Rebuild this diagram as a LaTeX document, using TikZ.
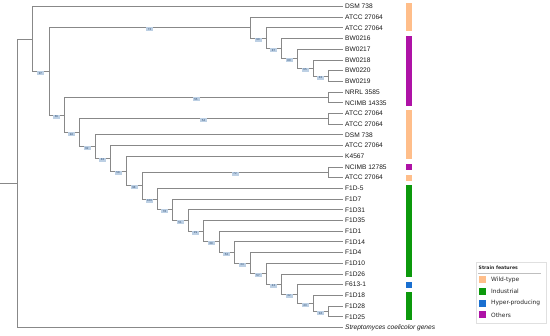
\documentclass[tikz,border=0pt]{standalone}
\usepackage{fontspec}
\setmainfont{Liberation Sans}
\newfontfamily\legfont{DejaVu Sans}
\definecolor{treegray}{HTML}{888888}
\definecolor{wild}{HTML}{FFBE8A}
\definecolor{indus}{HTML}{0C990C}
\definecolor{hyper}{HTML}{1A6FD0}
\definecolor{other}{HTML}{AE12A6}
\definecolor{bsfill}{HTML}{BDD0E4}
\definecolor{bstext}{HTML}{2F4F76}
\begin{document}
\begin{tikzpicture}[x=1pt,y=-1pt,
 br/.style={draw=treegray, line width=0.85pt},
 leaf/.style={anchor=west, inner xsep=2pt, inner ysep=0pt, font=\fontsize{6.6}{7}\selectfont, text=black!90},
 bs/.style={fill=bsfill, text=bstext, inner sep=0pt, minimum width=7pt, minimum height=4pt, font=\fontsize{2.9}{3}\selectfont, yshift=-1.6pt, pos=0.75},
 legtxt/.style={anchor=west, inner sep=0pt, font=\legfont\fontsize{5.9}{7}\selectfont, text=black!85},
 legsq/.style={inner sep=0pt, minimum size=7pt}
]
\useasboundingbox (0,0) rectangle (550,336);
% leaves
\node[leaf] (l0)  at (343,6.5)   {DSM 738};
\node[leaf] (l1)  at (343,17.2)  {ATCC 27064};
\node[leaf] (l2)  at (343,27.9)  {ATCC 27064};
\node[leaf] (l3)  at (343,38.6)  {BW0216};
\node[leaf] (l4)  at (343,49.3)  {BW0217};
\node[leaf] (l5)  at (343,60.0)  {BW0218};
\node[leaf] (l6)  at (343,70.7)  {BW0220};
\node[leaf] (l7)  at (343,81.4)  {BW0219};
\node[leaf] (l8)  at (343,92.1)  {NRRL 3585};
\node[leaf] (l9)  at (343,102.8) {NCIMB 14335};
\node[leaf] (l10) at (343,113.5) {ATCC 27064};
\node[leaf] (l11) at (343,124.2) {ATCC 27064};
\node[leaf] (l12) at (343,134.9) {DSM 738};
\node[leaf] (l13) at (343,145.6) {ATCC 27064};
\node[leaf] (l14) at (343,156.3) {K4567};
\node[leaf] (l15) at (343,167.0) {NCIMB 12785};
\node[leaf] (l16) at (343,177.7) {ATCC 27064};
\node[leaf] (l17) at (343,188.4) {F1D-5};
\node[leaf] (l18) at (343,199.1) {F1D7};
\node[leaf] (l19) at (343,209.8) {F1D31};
\node[leaf] (l20) at (343,220.5) {F1D35};
\node[leaf] (l21) at (343,231.2) {F1D1};
\node[leaf] (l22) at (343,241.9) {F1D14};
\node[leaf] (l23) at (343,252.6) {F1D4};
\node[leaf] (l24) at (343,263.3) {F1D10};
\node[leaf] (l25) at (343,274.0) {F1D26};
\node[leaf] (l26) at (343,284.7) {F613-1};
\node[leaf] (l27) at (343,295.4) {F1D18};
\node[leaf] (l28) at (343,306.1) {F1D28};
\node[leaf] (l29) at (343,316.8) {F1D25};
\node[leaf] (l30) at (343,327.5) {\itshape Streptomyces coelicolor genes};
% internal nodes
\coordinate (r0) at (0,183.23);
\coordinate (R0) at (17,183.23);
\coordinate (nA) at (32,38.96);
\coordinate (nB) at (49,71.41);
\coordinate (nC) at (250,27.73);
\coordinate (nC2) at (266,38.27);
\coordinate (nC3) at (281,48.63);
\coordinate (nC4) at (297,58.66);
\coordinate (nC5) at (313,68.03);
\coordinate (nC6) at (328,76.05);
\coordinate (nD) at (64,115.09);
\coordinate (nE) at (328,97.45);
\coordinate (nF) at (79,132.73);
\coordinate (nG) at (328,118.85);
\coordinate (nH) at (95,146.6);
\coordinate (nI) at (110,158.31);
\coordinate (nJ) at (126,171.01);
\coordinate (nK) at (142,185.73);
\coordinate (nL) at (328,172.35);
\coordinate (nM) at (157,199.1);
\coordinate (nN) at (172,209.8);
\coordinate (nO) at (188,220.49);
\coordinate (nP) at (203,231.18);
\coordinate (nQ) at (219,241.86);
\coordinate (nR) at (234,252.52);
\coordinate (nS) at (250,263.13);
\coordinate (nT) at (266,273.66);
\coordinate (nU) at (281,284.03);
\coordinate (nV) at (297,294.06);
\coordinate (nW) at (313,303.43);
\coordinate (nX) at (328,311.45);
% branches
\draw[br] (r0) -- (R0);
\draw[br] (R0) |- (nA);
\draw[br] (R0) |- (l30.west);
\draw[br] (nA) |- (l0.west);
\draw[br] (nA) |- node[bs]{97} (nB);
\draw[br] (nB) |- node[bs]{73} (nC);
\draw[br] (nB) |- node[bs]{66} (nD);
\draw[br] (nC) |- (l1.west);
\draw[br] (nC) |- node[bs]{90} (nC2);
\draw[br] (nC2) |- (l2.west);
\draw[br] (nC2) |- node[bs]{87} (nC3);
\draw[br] (nC3) |- (l3.west);
\draw[br] (nC3) |- node[bs]{80} (nC4);
\draw[br] (nC4) |- (l4.west);
\draw[br] (nC4) |- node[bs]{65} (nC5);
\draw[br] (nC5) |- (l5.west);
\draw[br] (nC5) |- node[bs]{83} (nC6);
\draw[br] (nC6) |- (l6.west);
\draw[br] (nC6) |- (l7.west);
\draw[br] (nD) |- node[bs]{55} (nE);
\draw[br] (nD) |- node[bs]{94} (nF);
\draw[br] (nE) |- (l8.west);
\draw[br] (nE) |- (l9.west);
\draw[br] (nF) |- node[bs]{54} (nG);
\draw[br] (nF) |- node[bs]{62} (nH);
\draw[br] (nG) |- (l10.west);
\draw[br] (nG) |- (l11.west);
\draw[br] (nH) |- (l12.west);
\draw[br] (nH) |- node[bs]{83} (nI);
\draw[br] (nI) |- (l13.west);
\draw[br] (nI) |- node[bs]{58} (nJ);
\draw[br] (nJ) |- (l14.west);
\draw[br] (nJ) |- node[bs]{98} (nK);
\draw[br] (nK) |- node[bs]{72} (nL);
\draw[br] (nK) |- node[bs]{100} (nM);
\draw[br] (nL) |- (l15.west);
\draw[br] (nL) |- (l16.west);
\draw[br] (nM) |- (l17.west);
\draw[br] (nM) |- node[bs]{78} (nN);
\draw[br] (nN) |- (l18.west);
\draw[br] (nN) |- node[bs]{51} (nO);
\draw[br] (nO) |- (l19.west);
\draw[br] (nO) |- node[bs]{29} (nP);
\draw[br] (nP) |- (l20.west);
\draw[br] (nP) |- node[bs]{39} (nQ);
\draw[br] (nQ) |- (l21.west);
\draw[br] (nQ) |- node[bs]{52} (nR);
\draw[br] (nR) |- (l22.west);
\draw[br] (nR) |- node[bs]{34} (nS);
\draw[br] (nS) |- (l23.west);
\draw[br] (nS) |- node[bs]{57} (nT);
\draw[br] (nT) |- (l24.west);
\draw[br] (nT) |- node[bs]{43} (nU);
\draw[br] (nU) |- (l25.west);
\draw[br] (nU) |- node[bs]{32} (nV);
\draw[br] (nV) |- (l26.west);
\draw[br] (nV) |- node[bs]{43} (nW);
\draw[br] (nW) |- (l27.west);
\draw[br] (nW) |- node[bs]{94} (nX);
\draw[br] (nX) |- (l28.west);
\draw[br] (nX) |- (l29.west);
% colour bar
\fill[wild]  (406,3.5)   rectangle (411.5,30.9);
\fill[other] (406,35.6)  rectangle (411.5,105.8);
\fill[wild]  (406,110.5) rectangle (411.5,159.3);
\fill[other] (406,164.0) rectangle (411.5,170.0);
\fill[wild]  (406,174.7) rectangle (411.5,180.7);
\fill[indus] (406,185.4) rectangle (411.5,277.0);
\fill[hyper] (406,281.7) rectangle (411.5,287.7);
\fill[indus] (406,292.4) rectangle (411.5,319.8);
% legend
\draw[draw=black!12, fill=white] (476,262) rectangle (546,323);
\node[anchor=west, inner sep=0pt, font=\legfont\bfseries\fontsize{4.6}{5}\selectfont, text=black!85] (legtitle) at (478.5,268) {Strain features};
\draw[draw=black!25, line width=0.5pt] (478,273) -- (541,273);
\node[legsq, fill=wild]  (sq1) at (482.5,279.5) {};
\node[legsq, fill=indus] (sq2) at (482.5,291.3) {};
\node[legsq, fill=hyper] (sq3) at (482.5,303.1) {};
\node[legsq, fill=other] (sq4) at (482.5,314.9) {};
\node[legtxt] (t1) at (491,279.5) {Wild-type};
\node[legtxt] (t2) at (491,291.3) {Industrial};
\node[legtxt] (t3) at (491,303.1) {Hyper-producing};
\node[legtxt] (t4) at (491,314.9) {Others};
\end{tikzpicture}
\end{document}
